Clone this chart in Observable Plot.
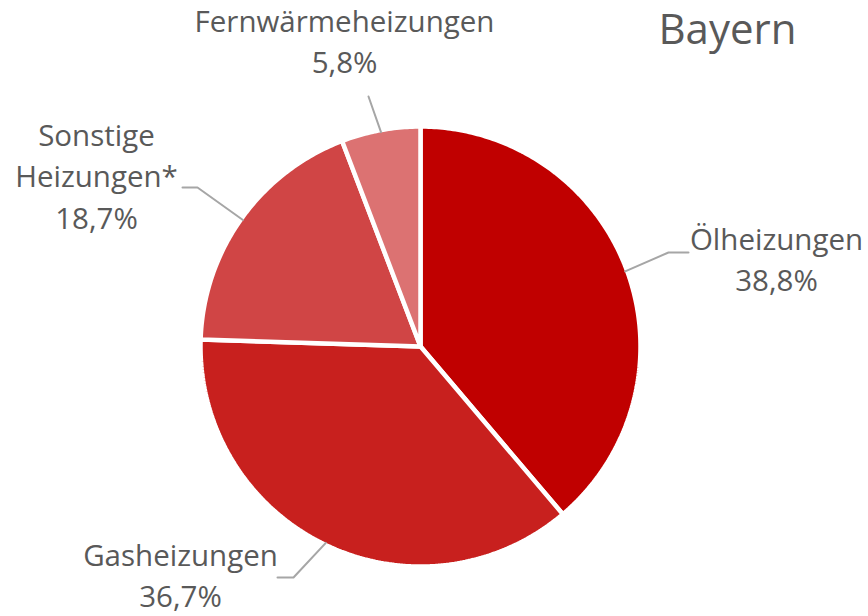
<!DOCTYPE html>
<html><head><meta charset="utf-8">
<script src="https://cdn.jsdelivr.net/npm/d3@7"></script>
<script src="https://cdn.jsdelivr.net/npm/@observablehq/plot@0.6"></script>
<style>body{margin:0;background:#fff}</style>
</head><body><div id="chart"></div>
<script>
const categories = ["Ölheizungen", "Gasheizungen", "Sonstige Heizungen*", "Fernwärmeheizungen"];
const shares = [38.8, 36.7, 18.7, 5.8];
const labelLines = [["Ölheizungen", "38,8%"], ["Gasheizungen", "36,7%"], ["Sonstige", "Heizungen*", "18,7%"], ["Fernwärmeheizungen", "5,8%"]];
const colors = ["#C00000", "#C8201E", "#D04545", "#DC7272"];
const title = "Bayern";

// layout
const W = 868, H = 616, cx = 420, cy = 346, R = 220;
const labelPos = [[776, 240], [180, 556], [96, 136], [344, 22]]; // first line centre
const elbows = [[[668, 252], [688, 252]], [[293, 577], [277, 577]], [[197, 187], [182, 187]], [[368, 96], [368, 96]]];
const lineGap = 41.5;

const total = d3.sum(shares);
const pts = [];
const leaders = [];
let acc = 0;
categories.forEach((c, i) => {
  const a0 = acc / total * 2 * Math.PI;
  acc += shares[i];
  const a1 = acc / total * 2 * Math.PI;
  pts.push({cat: c, x: cx, y: cy});
  const n = Math.max(2, Math.ceil((a1 - a0) * 80));
  for (let k = 0; k <= n; k++) {
    const a = a0 + (a1 - a0) * k / n;
    pts.push({cat: c, x: cx + R * Math.sin(a), y: cy - R * Math.cos(a)});
  }
  pts.push({cat: c, x: cx, y: cy});
  const am = (a0 + a1) / 2, r0 = R - 2;
  leaders.push({cat: c, x: cx + r0 * Math.sin(am), y: cy - r0 * Math.cos(am)});
  elbows[i].forEach(p => leaders.push({cat: c, x: p[0], y: p[1]}));
});

const texts = [];
labelLines.forEach((lines, i) => lines.forEach((t, j) => texts.push({t, x: labelPos[i][0], y: labelPos[i][1] + j * lineGap})));

const chart = Plot.plot({
  width: W, height: H, margin: 0,
  x: {domain: [0, W], axis: null},
  y: {domain: [H, 0], axis: null},
  color: {domain: categories, range: colors},
  style: {fontFamily: "'Open Sans', sans-serif", background: "white"},
  marks: [
    Plot.line(pts, {x: "x", y: "y", z: "cat", fill: "cat", stroke: "white", strokeWidth: 4.5, strokeLinejoin: "miter", curve: "linear"}),
    Plot.line(leaders, {x: "x", y: "y", z: "cat", stroke: "#A6A6A6", strokeWidth: 2, curve: "linear"}),
    Plot.text(texts, {x: "x", y: "y", text: "t", fontSize: 29.5, fill: "#595959", textAnchor: "middle", lineAnchor: "middle"}),
    Plot.text([title], {x: 727, y: 30, text: d => d, fontSize: 42, fill: "#595959", textAnchor: "middle", lineAnchor: "middle"})
  ]
});
document.getElementById("chart").append(chart);
</script></body></html>
